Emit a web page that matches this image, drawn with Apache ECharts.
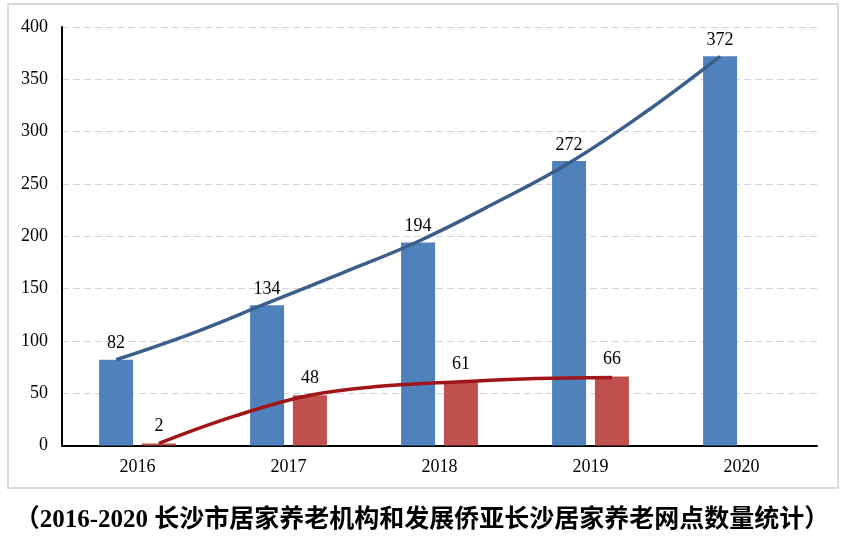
<!DOCTYPE html>
<html><head><meta charset="utf-8">
<script src="https://cdn.jsdelivr.net/npm/echarts@6/dist/echarts.min.js"></script>
<style>html,body{margin:0;padding:0;background:#fff}#c{width:844px;height:538px}</style>
</head><body><div id="c"></div>
<script>
// ---- data ----
const categories = ['2016','2017','2018','2019','2020'];
const institutions = [82, 134, 194, 272, 372];      // blue bars
const qiaoya = [2, 48, 61, 66, null];               // red bars
const yTicks = [0, 50, 100, 150, 200, 250, 300, 350, 400];
const blueTrend = [82, 107, 136, 165, 195, 231, 270, 318, 372];
const redTrend = [2, 28, 48, 57, 61, 64, 65];
const title = '（2016-2020 长沙市居家养老机构和发展侨亚长沙居家养老网点数量统计）';

// ---- layout ----
const W = 844, H = 538;
const gridL = 62, gridR = 27, gridT = 27, gridB = 92.5;
const barW = 34, barGapPct = 26;
const catW = (W - gridL - gridR) / categories.length;
const barOffset = (barW * (1 + barGapPct / 100) / 2) / catW; // in category units

const bluePts = blueTrend.map((v, i) => [0.5 - barOffset + i * 0.5, v]);
const redPts = redTrend.map((v, i) => [0.5 + barOffset + i * 0.5, v]);

const serif = "'Liberation Serif','Times New Roman',serif";
const chart = echarts.init(document.getElementById('c'), null, {renderer: 'canvas'});
chart.setOption({
  animation: false,
  backgroundColor: '#fff',
  graphic: [
    {type: 'rect', shape: {x: 8, y: 4, width: 830, height: 484},
     style: {fill: 'none', stroke: '#d9d9d9', lineWidth: 2}, z: -1},
    {type: 'text', left: 'center', top: 508,
     style: {text: title, font: "bold 25px 'Liberation Serif','Noto Sans CJK SC',serif", fill: '#000'}}
  ],
  grid: {left: gridL, right: gridR, top: gridT, bottom: gridB},
  xAxis: [
    {type: 'category', data: categories,
     axisLine: {lineStyle: {color: '#000', width: 2}},
     axisTick: {show: false},
     axisLabel: {color: '#000', fontFamily: serif, fontSize: 18, margin: 13}},
    {type: 'value', min: 0, max: categories.length, show: false}
  ],
  yAxis: {
    type: 'value', min: yTicks[0], max: yTicks[yTicks.length - 1], interval: yTicks[1] - yTicks[0],
    axisLine: {show: true, lineStyle: {color: '#000', width: 2}},
    axisTick: {show: false},
    axisLabel: {color: '#000', fontFamily: serif, fontSize: 18, margin: 14},
    splitLine: {lineStyle: {color: '#d4d4d4', type: [7, 4], width: 1}}
  },
  series: [
    {type: 'bar', data: institutions, barWidth: barW, barGap: barGapPct + '%',
     itemStyle: {color: '#4f81bd'},
     label: {show: true, position: 'top', distance: 7, color: '#000', fontFamily: serif, fontSize: 18}},
    {type: 'bar', data: qiaoya, barWidth: barW,
     itemStyle: {color: '#c0504d'},
     label: {show: true, position: 'top', distance: 8, color: '#000', fontFamily: serif, fontSize: 18}},
    {type: 'line', xAxisIndex: 1, data: bluePts, smooth: 0.4, symbol: 'none',
     lineStyle: {color: '#3b5e8b', width: 3.5}, z: 5},
    {type: 'line', xAxisIndex: 1, data: redPts, smooth: 0.4, symbol: 'none',
     lineStyle: {color: '#a0151a', width: 3.5}, z: 5}
  ]
});
</script></body></html>
